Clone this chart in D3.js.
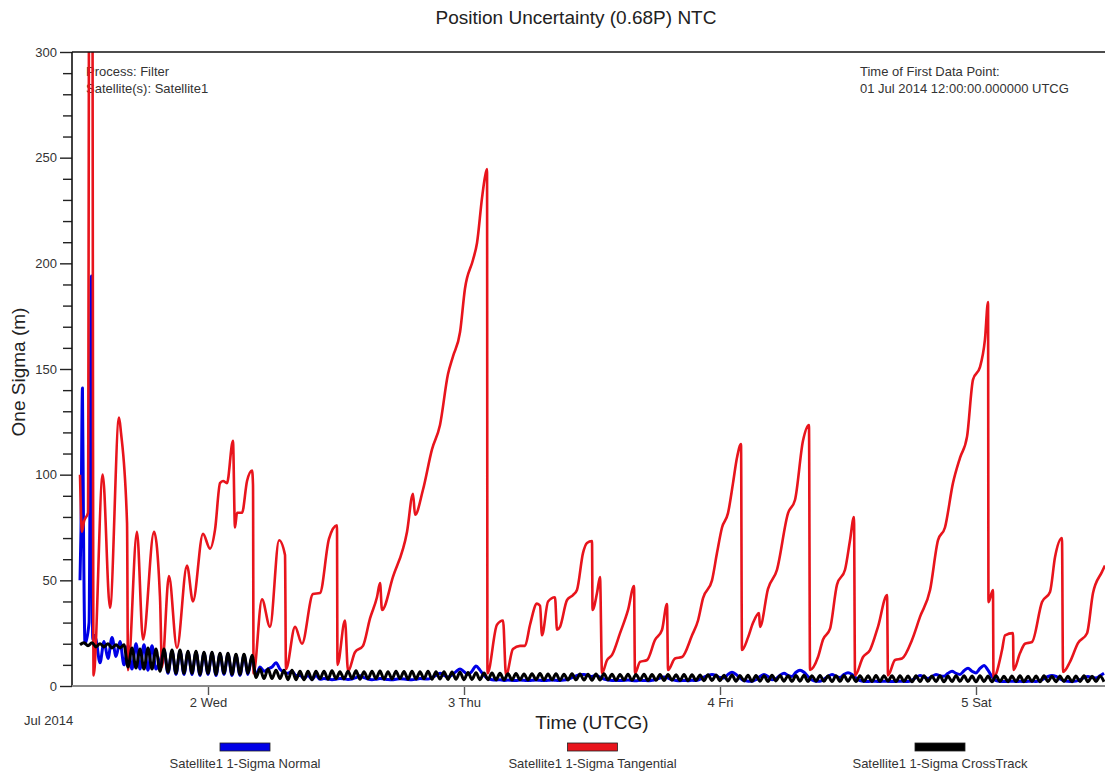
<!DOCTYPE html>
<html>
<head>
<meta charset="utf-8">
<script src="https://cdn.jsdelivr.net/npm/d3@7"></script>
<style>
  html, body { margin: 0; padding: 0; background: #fff; }
  svg { display: block; font-family: "Liberation Sans", Arial, sans-serif; }
</style>
</head>
<body>
<svg id="chart" width="1105" height="771"></svg>
<script>
// ---- Series names (legend order) ----
const seriesNames = [
  "Satellite1 1-Sigma Normal",
  "Satellite1 1-Sigma Tangential",
  "Satellite1 1-Sigma CrossTrack"
];

// ---- Epoch of the first data point (UTC) ----
const firstPoint = Date.UTC(2014, 6, 1, 12, 0, 0);

// ---- Tangential one-sigma (m), hours after first point ----
const tangentialHours = [
  0,0.19,0.38,0.75,0.89,1.13,1.27,2.13,2.81,3.66,3.84,
  4.41,4.50,5.34,5.91,6.94,7.50,7.69,8.34,9.09,10.03,
  10.59,11.53,12.19,12.66,13.13,13.41,13.78,14.34,14.53,14.72,
  15.19,15.66,16.13,16.22,16.27,17.06,17.81,18.66,19.22,19.31,
  20.16,20.81,21.84,22.50,23.34,24.09,24.14,24.84,25.13,25.78,
  26.53,27.19,27.84,28.13,28.31,29.34,30.66,31.22,31.41,32.16,
  33.00,33.75,34.50,34.97,35.63,36.09,36.84,37.22,37.69,37.97,
  38.16,38.20,39.09,39.66,39.94,40.59,41.25,41.72,42.19,42.84,
  43.13,43.31,43.88,44.53,44.72,45.00,45.66,46.22,46.59,47.16,
  47.53,48.00,48.05,48.47,48.75,48.94,49.41,49.88,50.63,51.38,
  51.94,52.03,52.50,53.16,53.91,54.56,55.03,55.13,55.78,56.44,
  57.38,57.94,58.41,59.25,59.72,60.19,60.75,61.22,61.59,61.97,
  62.06,62.63,63.09,63.66,63.75,64.50,65.34,66.38,67.03,67.78,
  68.34,68.44,69.19,69.66,70.31,70.97,71.72,72.19,72.56,72.66,
  73.41,74.06,74.81,75.66,75.75,76.41,77.06,78.00,78.75,79.69,
  80.44,81.09,81.84,82.50,83.16,83.72,84.38,84.84,85.13,85.17,
  85.59,85.64,86.44,86.72,87.47,87.52,88.13,88.59,89.25,90.19,
  90.94,91.41,92.06,92.16,92.81,93.56,94.41,94.97,95.81,96.09
];
const tangentialValues = [
  100,73,78,82,420,420,5,100,37,127,120,
  77,7.5,73,22,73,42,9,52,18,57,
  40,72,65,74,96,97,96,116,75,82,
  82,97,102,95,6,41,28,69,62,8,
  28,20,43.5,44,69.6,76,10,31,7,16,
  19,32,42,48.7,36,51.6,73,91,81,93,
  112,123.5,147.6,156,167.5,188,201.6,209.6,231,241,
  244.6,6,29,31,5,17.5,19,19,29,39,
  38,24,40,42,26.6,28,40.7,43,45.4,63,
  67.7,68.6,36,44,51.6,6,12.3,14.7,25,36,
  47.3,6,11.4,12.3,21.8,26.5,38.8,7.6,13,13.7,
  24,31,41.6,50,63,75,81.8,96,108,114.5,
  17,23,29.8,34.5,28,46,55,81.8,88,116,
  123.5,7.6,13.7,22,27,48,55,69,80,5,
  13.7,17,28,43,5,12.3,13,21.8,32.7,45.4,
  69,75,96,108,118,145,151,164,181.7,39.7,
  45.4,4,17,24,25,7.6,15.6,20,20.8,39.7,
  44.5,61,70,6.6,11.4,20.3,25,44,54,57
];

// ---- Regular output step of the filter (hours) ----
const gridStepHours = 0.375;

// ---- Normal one-sigma (m): start-up transient, then regular samples ----
const normalLeadHours  = [0, 0.09, 0.23, 0.33, 0.47, 0.85, 1.06, 1.19, 1.31];
const normalLeadValues = [50, 73, 141, 73, 20, 30, 194, 22, 24];
const normalGridStart = 1.5;
const normalGridValues = [
  22,11,21,13,23,14,21,10,
  19,8,20,8,19.5,7.5,19,8,12,
  17,6,16.5,5.5,16.5,5.5,16,5.5,16,5,15.5,5.5,15.5,5,15,5.5,15,5,14.5,5,14.5,5.5,14,
  5,9,7,8,9,11,8,6.5,6,7,5,5,3.5,5,3,5,
  3.2,3.5,3.3,3,3.2,3.6,3.4,3.1,3.3,4,
  4.8,4,3.3,3,3.2,3.5,3.3,3.1,3,3.2,
  3.4,3.3,3.1,3,3.2,3.5,3.4,3.3,4,5,
  6,5,4.2,5.2,6.8,8,6.8,5.5,7,9.5,
  7.5,5,3.5,3,2.8,3,
  2.6,2.8,2.7,2.6,2.8,2.7,2.6,2.7,2.8,2.7,
  2.6,2.7,2.8,2.7,2.6,2.8,3.2,4,4.8,5.3,
  5.5,5,4.5,5,4.2,3.3,2.8,2.6,2.7,2.6,
  2.7,2.8,2.6,2.5,2.7,2.6,2.5,2.7,3,3.8,
  4.3,3.8,3,2.6,2.5,2.6,2.5,2.7,2.6,3.2,
  4.2,5,5.5,5,4,
  3.8,5.5,6.5,5.5,3.8,2.6,2.3,2.2,3,4.5,
  5.5,4.5,3,3.5,5,6,5,4.5,6.5,7.5,
  6.5,4.5,2.8,2.2,2.3,3.2,4.5,5.5,4.5,4,
  5.5,6.3,5.5,3.8,2.6,2.2,2.1,2.3,2.2,2.1,
  2.3,2.2,2.1,2.2,2.3,2.2,2.1,2.8,4,5,
  4.2,3.5,4.5,5.5,4.8,4.6,6,7,6,5.5,
  7.2,8.4,7,6.2,8.3,9.7,7.5,4.5,2.6,2.2,
  2.1,2.2,2.3,2.1,2.2,2.1,2.2,2.3,2.1,2.6,
  3.5,4.5,5,4.5,3.3,2.5,2.2,2.1,2.3,3,
  4,4.5,4,3.8,4.8,6
];

// ---- CrossTrack one-sigma (m): regular samples from the first point ----
const crossTrackGridStart = 0;
const crossTrackGridValues = [
  19.5,20.5,19,20.5,18.5,20,18.5,20,18,19.5,18,19.5,
  9,18,8.5,17.5,8,18,8,17.5,7,17.5,6.5,17,6,17,6,16.5,6,16.5,5.5,16,
  6,16,5.5,15.5,6,15.5,5.5,15,5.5,15,6,14.5,
  4,8,3.5,8,3.5,7.5,3.5,7.5,3,7.5,3,7,3,7,3,7,
  3.5,7,3.2,7.2,3.5,6.8,3.3,7,3.5,7.2,3.2,6.8,3.4,7,3.5,7.1,3.2,6.8,3.3,7,
  3.5,6.9,3.2,7,3.3,6.8,3.4,7,3.2,6.7,3.3,6.8,3.1,6.6,3.2,6.5,3,6.4,3.1,6.3,
  3,6.2,3,6.1,2.9,6,
  2.9,5.8,2.8,5.9,2.9,5.7,2.8,5.8,3,5.9,2.8,5.7,2.9,5.8,2.7,5.6,2.8,5.8,2.9,5.7,
  2.8,5.6,2.7,5.7,2.8,5.8,2.9,5.6,2.7,5.5,2.8,5.6,2.7,5.5,2.8,5.6,2.6,5.4,2.7,5.5,
  2.6,5.4,2.7,5.3,2.6,5.4,2.5,5.3,2.6,5.2,2.5,5.3,2.6,5.2,2.5,
  5.1,2.4,5.2,2.3,5,2.4,5.1,2.2,5,2.3,4.9,2.2,5.1,2.4,5,2.3,4.9,2.2,5,2.3,
  5.1,2.2,4.9,2.3,5,2.2,4.8,2.1,4.9,2.2,5,2.3,4.8,2.1,4.9,2.2,4.8,2.1,5,2.2,
  4.9,2.3,4.8,2.1,4.9,2.2,4.7,2,4.8,2.1,4.9,2.2,4.7,2.1,4.8,2,4.7,2.1,4.9,2.2,
  4.8,2.1,4.7,2,4.8,2.1,4.7,2,4.8,2.1,4.6,2,4.7,2.1,4.8,2,4.6,2.1,4.7,2,
  4.8,2.1,4.6,2,4.7,2.1,4.6,2,4.7,2.1,4.8,2,4.6,2.1,4.7,2
];

// ---- Axis ticks ----
const dayTicks = [
  Date.UTC(2014, 6, 2), Date.UTC(2014, 6, 3),
  Date.UTC(2014, 6, 4), Date.UTC(2014, 6, 5)
];
const yMajorTicks = [0, 50, 100, 150, 200, 250, 300];
const yMinorTicks = [10,20,30,40,60,70,80,90,110,120,130,140,160,170,180,190,210,220,230,240,260,270,280,290];

// ---- Text ----
const titleText = "Position Uncertainty (0.68P) NTC";
const xTitle = "Time (UTCG)";
const yTitle = "One Sigma (m)";
const monthLabel = "Jul 2014";
const infoLeft = ["Process: Filter", "Satellite(s): Satellite1"];
const infoRight = ["Time of First Data Point:", "01 Jul 2014 12:00:00.000000 UTCG"];

// ================= drawing =================
const colors = { normal: "#0000e6", tangential: "#e8141c", crossTrack: "#000000" };
const legendColors = [colors.normal, colors.tangential, colors.crossTrack];

const svg = d3.select("#chart");
const plot = { left: 72, right: 1104, top: 52, bottom: 686, edge: 1105 };

const x = d3.scaleUtc()
  .domain([Date.UTC(2014, 6, 1, 11, 15), Date.UTC(2014, 6, 5, 12, 0)])
  .range([plot.left, plot.right]);
const y = d3.scaleLinear().domain([0, 300]).range([plot.bottom, plot.top]);

const hoursToDate = h => new Date(firstPoint + h * 3600e3);
const pairs = (hours, vals) => hours.map((h, i) => ({ t: hoursToDate(h), v: vals[i] }));
const grid = (start, vals) => vals.map((v, i) => ({ t: hoursToDate(start + i * gridStepHours), v }));

const tangential = pairs(tangentialHours, tangentialValues);
const normal = pairs(normalLeadHours, normalLeadValues).concat(grid(normalGridStart, normalGridValues));
const crossTrack = grid(crossTrackGridStart, crossTrackGridValues);

const font = "'Liberation Sans', Arial, sans-serif";

// Title
svg.append("text")
  .attr("x", 576).attr("y", 24)
  .attr("text-anchor", "middle")
  .attr("font-size", 19).attr("fill", "#222")
  .text(titleText);

// Info text inside the plot
const infoG = svg.append("g").attr("font-size", 13).attr("fill", "#333");
infoG.selectAll("text.l").data(infoLeft).join("text")
  .attr("class", "l").attr("x", 86).attr("y", (d, i) => 76 + i * 17).text(d => d);
infoG.selectAll("text.r").data(infoRight).join("text")
  .attr("class", "r").attr("x", 860).attr("y", (d, i) => 76 + i * 17).text(d => d);

// Clip region for the traces
svg.append("clipPath").attr("id", "plotClip")
  .append("rect")
  .attr("x", plot.left).attr("y", plot.top)
  .attr("width", plot.edge - plot.left).attr("height", plot.bottom - plot.top);

const traces = svg.append("g").attr("clip-path", "url(#plotClip)");

const smoothLine = d3.line().x(d => x(d.t)).y(d => y(d.v)).curve(d3.curveMonotoneX);

traces.append("path").datum(normal)
  .attr("fill", "none").attr("stroke", colors.normal)
  .attr("stroke-width", 3).attr("stroke-linejoin", "round")
  .attr("d", smoothLine);
traces.append("path").datum(tangential)
  .attr("fill", "none").attr("stroke", colors.tangential)
  .attr("stroke-width", 2.6).attr("stroke-linejoin", "round")
  .attr("d", smoothLine);
traces.append("path").datum(crossTrack)
  .attr("fill", "none").attr("stroke", colors.crossTrack)
  .attr("stroke-width", 3).attr("stroke-linejoin", "round")
  .attr("d", smoothLine);

// Y axis: minor ticks, then labelled major ticks
svg.append("g")
  .attr("transform", `translate(${plot.left},0)`)
  .call(d3.axisLeft(y).tickValues(yMinorTicks).tickSize(9).tickFormat(""))
  .call(g => g.select(".domain").remove())
  .call(g => g.selectAll(".tick line").attr("stroke", "#222").attr("stroke-width", 1.4));

svg.append("g")
  .attr("transform", `translate(${plot.left},0)`)
  .call(d3.axisLeft(y).tickValues(yMajorTicks).tickSize(12).tickPadding(3))
  .call(g => g.select(".domain").remove())
  .call(g => g.selectAll(".tick line").attr("stroke", "#222").attr("stroke-width", 1.4))
  .call(g => g.selectAll(".tick text").attr("font-size", 13).attr("font-family", font).attr("fill", "#333"));

// X axis
svg.append("g")
  .attr("transform", `translate(0,${plot.bottom})`)
  .call(d3.axisBottom(x).tickValues(dayTicks).tickSize(9).tickPadding(3)
    .tickFormat(d3.utcFormat("%-d %a")))
  .call(g => g.select(".domain").remove())
  .call(g => g.selectAll(".tick line").attr("stroke", "#555").attr("stroke-width", 1.4))
  .call(g => g.selectAll(".tick text").attr("font-size", 13).attr("font-family", font).attr("fill", "#333"));

// Frame: left and top in black, bottom baseline in grey
svg.append("line")
  .attr("x1", plot.left).attr("x2", plot.left)
  .attr("y1", plot.top).attr("y2", plot.bottom)
  .attr("stroke", "#111").attr("stroke-width", 1.6);
svg.append("line")
  .attr("x1", plot.left).attr("x2", plot.edge)
  .attr("y1", plot.top).attr("y2", plot.top)
  .attr("stroke", "#111").attr("stroke-width", 1.6);
svg.append("line")
  .attr("x1", plot.left).attr("x2", plot.edge)
  .attr("y1", plot.bottom).attr("y2", plot.bottom)
  .attr("stroke", "#8a8a8a").attr("stroke-width", 2);

// Axis titles and month label
svg.append("text")
  .attr("x", 592).attr("y", 729)
  .attr("text-anchor", "middle")
  .attr("font-size", 19).attr("fill", "#222")
  .text(xTitle);
svg.append("text")
  .attr("transform", "translate(25,372) rotate(-90)")
  .attr("text-anchor", "middle")
  .attr("font-size", 19).attr("fill", "#222")
  .text(yTitle);
svg.append("text")
  .attr("x", 24).attr("y", 725)
  .attr("font-size", 13).attr("fill", "#333")
  .text(monthLabel);

// Legend
const legendX = d3.scalePoint().domain(seriesNames).range([245, 940]);
const legend = svg.append("g").selectAll("g").data(seriesNames).join("g")
  .attr("transform", d => `translate(${legendX(d)},0)`);
legend.append("rect")
  .attr("x", -25).attr("y", 743).attr("width", 50).attr("height", 8)
  .attr("fill", (d, i) => legendColors[i])
  .attr("stroke", "#222").attr("stroke-width", 0.8);
legend.append("text")
  .attr("y", 768).attr("text-anchor", "middle")
  .attr("font-size", 13).attr("fill", "#333")
  .text(d => d);
</script>
</body>
</html>
